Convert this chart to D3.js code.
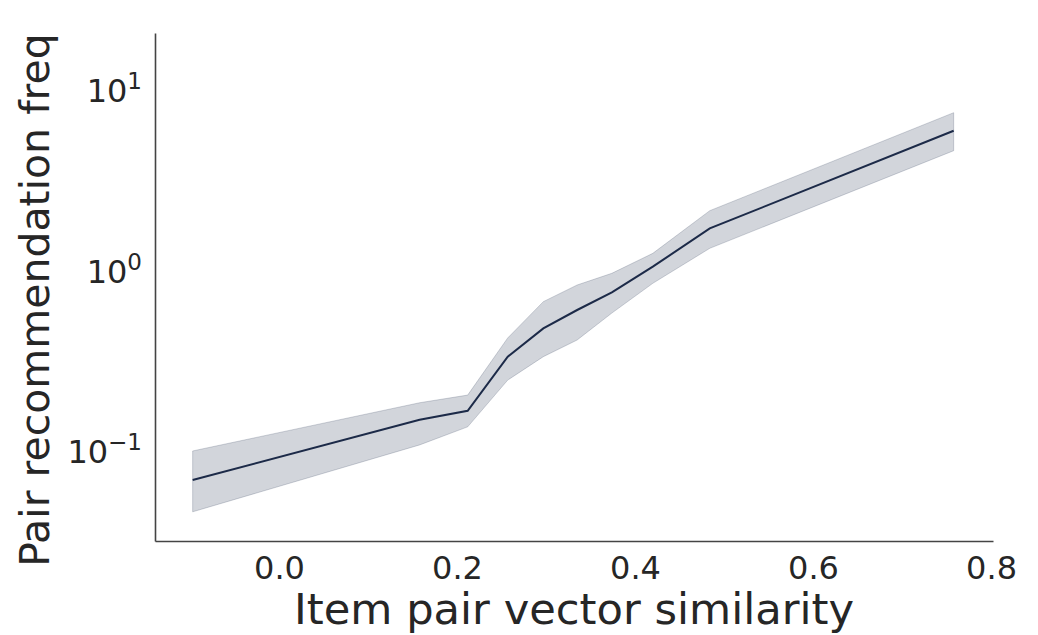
<!DOCTYPE html>
<html>
<head>
<meta charset="utf-8">
<script src="https://cdn.jsdelivr.net/npm/d3@7"></script>
<style>
  body { margin: 0; background: #fff; }
  text { font-family: "DejaVu Sans", sans-serif; fill: #262626; }
</style>
</head>
<body>
<svg id="chart"></svg>
<script>
// similarity bins and the recommendation frequency (mean + confidence band)
const similarity = [-0.097, 0.158, 0.212, 0.257, 0.297, 0.335, 0.374, 0.420, 0.484, 0.758];
const freqMean  = [0.069, 0.149, 0.167, 0.333, 0.478, 0.604, 0.757, 1.05, 1.71, 5.95];
const freqUpper = [0.100, 0.185, 0.204, 0.423, 0.672, 0.831, 0.965, 1.245, 2.145, 7.49];
const freqLower = [0.046, 0.108, 0.136, 0.247, 0.333, 0.412, 0.581, 0.849, 1.327, 4.61];
const xTicks = [0.0, 0.2, 0.4, 0.6, 0.8];
const yTicks = [0.1, 1, 10];

const width = 1038, height = 635;
const plotLeft = 155, plotRight = 993, plotTop = 33, plotBottom = 541;

const svg = d3.select('#chart')
  .attr('width', width)
  .attr('height', height);

const x = d3.scaleLinear()
  .domain([-0.1393, 0.8022])
  .range([plotLeft, plotRight]);

const y = d3.scaleLog()
  .domain([0.0317, 20.7])
  .range([plotBottom, plotTop]);

const rows = similarity.map((s, i) => ({ s: s, m: freqMean[i], lo: freqLower[i], hi: freqUpper[i] }));

const band = d3.area()
  .x(d => x(d.s))
  .y0(d => y(d.lo))
  .y1(d => y(d.hi));

const line = d3.line()
  .x(d => x(d.s))
  .y(d => y(d.m));

svg.append('path')
  .datum(rows)
  .attr('d', band)
  .attr('fill', '#1c2d4c')
  .attr('fill-opacity', 0.2)
  .attr('stroke', '#1c2d4c')
  .attr('stroke-opacity', 0.2)
  .attr('stroke-width', 1);

svg.append('path')
  .datum(rows)
  .attr('d', line)
  .attr('fill', 'none')
  .attr('stroke', '#1c2a48')
  .attr('stroke-width', 2);

// axes (seaborn white style: no tick marks, only left and bottom spines)
const xAxis = svg.append('g')
  .attr('transform', `translate(0,${plotBottom})`)
  .call(d3.axisBottom(x).tickValues(xTicks).tickFormat(d3.format('.1f')).tickSize(0).tickPadding(15));

const yAxis = svg.append('g')
  .attr('transform', `translate(${plotLeft},0)`)
  .call(d3.axisLeft(y).tickValues(yTicks).tickSize(0).tickPadding(13));

[xAxis, yAxis].forEach(g => {
  g.select('.domain').attr('stroke', '#444').attr('stroke-width', 1.6);
  g.selectAll('.tick text').style('font-size', '32px').attr('fill', '#262626');
});

xAxis.selectAll('.tick text').attr('dy', '0.71em');

yAxis.selectAll('.tick text')
  .attr('dy', '0.36em')
  .each(function(d) {
    const t = d3.select(this);
    const e = Math.round(Math.log10(d));
    t.text('10');
    t.append('tspan')
      .attr('dy', '-0.55em')
      .style('font-size', '23px')
      .text(String(e).replace('-', '\u2212'));
  });

svg.append('text')
  .attr('x', (plotLeft + plotRight) / 2)
  .attr('y', 624)
  .attr('text-anchor', 'middle')
  .style('font-size', '42px')
  .attr('textLength', 560)
  .attr('lengthAdjust', 'spacingAndGlyphs')
  .text('Item pair vector similarity');

svg.append('text')
  .attr('transform', `translate(49,300) rotate(-90)`)
  .attr('text-anchor', 'middle')
  .style('font-size', '41px')
  .text('Pair recommendation freq');
</script>
</body>
</html>
